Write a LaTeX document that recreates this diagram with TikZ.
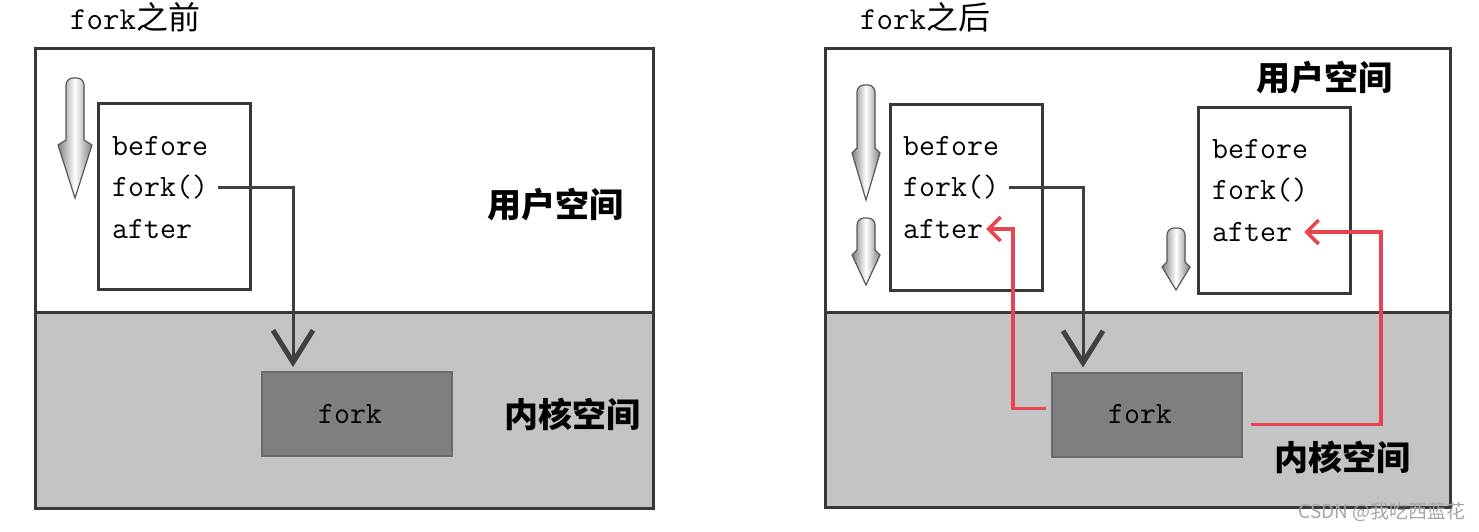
\documentclass[tikz,border=0pt]{standalone}
\usepackage{fontspec}
\newfontfamily\cjk{Noto Sans CJK SC}
\usetikzlibrary{arrows.meta}
\definecolor{kgray}{HTML}{C4C4C4}
\definecolor{fgray}{HTML}{7F7F7F}
\definecolor{redc}{HTML}{E8434E}
\newcommand\hollowarr[5]{% x, ytop, yhead, ytip, halfhead
  \filldraw[left color=black!50, right color=black!50, middle color=white, draw=black!65, line width=1.2pt]
    (#1-9,#3) [rounded corners=7pt]-- (#1-9,#2) -- (#1+9,#2) [sharp corners]-- (#1+9,#3)
    -- (#1+#5,#3+5) -- (#1,#4) -- (#1-#5,#3+5) -- cycle;}
\tikzset{
  frame/.style={draw=black!78, line width=3pt},
  proc/.style={draw=black!78, line width=3pt, fill=white, minimum width=152pt, minimum height=186pt, inner sep=0pt},
  kern/.style={draw=black!58, line width=2pt, fill=fgray, minimum width=190pt, minimum height=84pt, inner sep=0pt, font=\fontsize{31}{36}\selectfont\ttfamily},
  code/.style={anchor=west, inner sep=0pt, font=\fontsize{31}{36}\selectfont\ttfamily},
  lbl/.style={font=\fontsize{34}{40}\selectfont\cjk\bfseries, inner sep=0pt},
  ttl/.style={anchor=west, inner sep=0pt, font=\fontsize{32}{38}\selectfont\ttfamily},
  call/.style={draw=black!75, line width=3pt, -{Straight Barb[length=32pt,width=40pt,line width=5pt]}},
  ret/.style={draw=redc, line width=3.5pt, -{Straight Barb[length=12pt,width=24pt,line width=3.5pt]}},
}
\begin{document}
\begin{tikzpicture}[x=1pt,y=-1pt]
\useasboundingbox (0,0) rectangle (1479,531);
% ---------- left panel ----------
\fill[kgray] (35,312) rectangle (653,508);
\draw[frame] (35,48) rectangle (653,508);
\draw[frame] (35,312) -- (653,312);
\node[ttl] (t1) at (70,17) {fork{\cjk 之前}};
\hollowarr{75}{78}{140}{198}{17}
\node[proc] (p1) at (174,196.5) {};
\node[code] (b1) at (112,146) {before};
\node[code] (f1) at (112,187) {fork()};
\node[code] (a1) at (112,229) {after};
\node[kern] (k1) at (357,414) {fork\hspace*{14pt}};
\node[lbl] (u1) at (555,205) {用户空间};
\node[lbl] (n1) at (572,414) {内核空间};
\draw[call] ([xshift=10pt]f1.east) -| ([xshift=-64pt,yshift=4pt]k1.north);
% ---------- right panel ----------
\fill[kgray] (825,312) rectangle (1450,507);
\draw[frame] (825,48) rectangle (1450,507);
\draw[frame] (825,312) -- (1450,312);
\node[ttl] (t2) at (860,17) {fork{\cjk 之后}};
\hollowarr{866}{85}{148}{200}{14}
\hollowarr{866}{218}{250}{285}{14}
\hollowarr{1176}{228}{262}{290}{14}
\node[proc] (p2) at (966,197.5) {};
\node[code] (b2) at (903,146) {before};
\node[code] (f2) at (903,187) {fork()};
\node[code] (a2) at (903,229) {after};
\node[proc] (p3) at (1274,200) {};
\node[code] (b3) at (1212,149) {before};
\node[code] (f3) at (1212,190) {fork()};
\node[code] (a3) at (1212,232) {after};
\node[kern] (k2) at (1147,414.5) {fork\hspace*{14pt}};
\node[lbl] (u2) at (1324,78) {用户空间};
\node[lbl] (n2) at (1342,457) {内核空间};
\draw[call] ([xshift=10pt]f2.east) -| ([xshift=-64pt,yshift=4pt]k2.north);
\draw[ret] ([xshift=-5pt,yshift=6pt]k2.west) -- ++(-33,0) |- ([xshift=3pt]a2.east);
\draw[ret] ([xshift=8pt,yshift=-10pt]k2.east) -- ++(130,0) |- ([xshift=12pt]a3.east);
\node[font=\fontsize{19}{22}\selectfont\cjk, text=black!35, anchor=east, inner sep=0pt] (wm) at (1466,512) {CSDN @我吃西蓝花};
\end{tikzpicture}
\end{document}
